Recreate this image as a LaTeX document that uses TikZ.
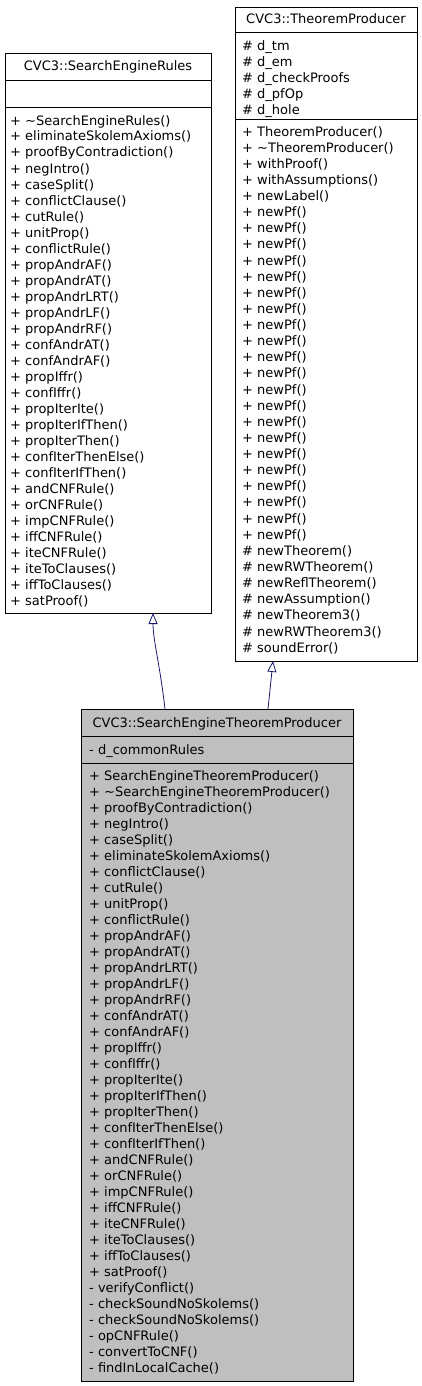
\documentclass[tikz,border=0pt]{standalone}
\usepackage{fontspec}
\setmainfont{DejaVu Sans}
\usetikzlibrary{arrows.meta}
\definecolor{edgec}{HTML}{191970}
\definecolor{fillg}{HTML}{BFBFBF}
\begin{document}
\begin{tikzpicture}[x=1pt,y=-1pt,
  font=\fontsize{13}{16}\selectfont,
  umlbox/.style={draw=black, line width=0.9pt, inner sep=0pt, outer sep=0pt, anchor=north west},
  txt/.style={anchor=base west, inner sep=0pt},
  ttl/.style={anchor=base, inner sep=0pt},
  inh/.style={draw=edgec, line width=0.8pt, -{Triangle[open,length=11pt,width=9pt,fill=white]}}]
\useasboundingbox (0,0) rectangle (421,1386);

% ---------- SearchEngineRules ----------
\node[umlbox, minimum width=206pt, minimum height=560pt] (ser) at (5,53) {};
\draw[line width=0.9pt] (5,80) -- (211,80);
\draw[line width=0.9pt] (5,107) -- (211,107);
\node[ttl] (sert) at (108,71) {CVC3::SearchEngineRules};
\foreach \t [count=\i from 0] in {%
 + \textasciitilde SearchEngineRules(), + eliminateSkolemAxioms(), + proofByContradiction(),
 + negIntro(), + caseSplit(), + conflictClause(), + cutRule(), + unitProp(), + conflictRule(),
 + propAndrAF(), + propAndrAT(), + propAndrLRT(), + propAndrLF(), + propAndrRF(),
 + confAndrAT(), + confAndrAF(), + propIffr(), + confIffr(), + propIterIte(),
 + propIterIfThen(), + propIterThen(), + confIterThenElse(), + confIterIfThen(),
 + andCNFRule(), + orCNFRule(), + impCNFRule(), + iffCNFRule(), + iteCNFRule(),
 + iteToClauses(), + iffToClauses(), + satProof()}
  \node[txt] (serm\i) at (10,{125+16*\i}) {\t};

% ---------- TheoremProducer ----------
\node[umlbox, minimum width=182pt, minimum height=654pt] (tp) at (235,7) {};
\draw[line width=0.9pt] (235,32) -- (417,32);
\draw[line width=0.9pt] (235,119) -- (417,119);
\node[ttl] (tpt) at (326,24) {CVC3::TheoremProducer};
\foreach \t [count=\i from 0] in {\# d\_tm, \# d\_em, \# d\_checkProofs, \# d\_pfOp, \# d\_hole}
  \node[txt] (tpa\i) at (242,{51+16*\i}) {\t};
\foreach \t [count=\i from 0] in {%
 + TheoremProducer(), + \textasciitilde TheoremProducer(), + withProof(), + withAssumptions(),
 + newLabel(), + newPf(), + newPf(), + newPf(), + newPf(), + newPf(), + newPf(), + newPf(),
 + newPf(), + newPf(), + newPf(), + newPf(), + newPf(), + newPf(), + newPf(), + newPf(),
 + newPf(), + newPf(), + newPf(), + newPf(), + newPf(), + newPf(),
 \# newTheorem(), \# newRWTheorem(), \# newReflTheorem(), \# newAssumption(),
 \# newTheorem3(), \# newRWTheorem3(), \# soundError()}
  \node[txt] (tpm\i) at (242,{136+16.13*\i}) {\t};

% ---------- SearchEngineTheoremProducer ----------
\node[umlbox, fill=fillg, minimum width=272pt, minimum height=672pt] (setp) at (81,709) {};
\draw[line width=0.9pt] (81,736) -- (353,736);
\draw[line width=0.9pt] (81,763) -- (353,763);
\node[ttl] (setpt) at (217,727) {CVC3::SearchEngineTheoremProducer};
\node[txt] (setpa) at (89,754) {- d\_commonRules};
\foreach \t [count=\i from 0] in {%
 + SearchEngineTheoremProducer(), + \textasciitilde SearchEngineTheoremProducer(),
 + proofByContradiction(), + negIntro(), + caseSplit(), + eliminateSkolemAxioms(),
 + conflictClause(), + cutRule(), + unitProp(), + conflictRule(),
 + propAndrAF(), + propAndrAT(), + propAndrLRT(), + propAndrLF(), + propAndrRF(),
 + confAndrAT(), + confAndrAF(), + propIffr(), + confIffr(), + propIterIte(),
 + propIterIfThen(), + propIterThen(), + confIterThenElse(), + confIterIfThen(),
 + andCNFRule(), + orCNFRule(), + impCNFRule(), + iffCNFRule(), + iteCNFRule(),
 + iteToClauses(), + iffToClauses(), + satProof(),
 - verifyConflict(), - checkSoundNoSkolems(), - checkSoundNoSkolems(),
 - opCNFRule(), - convertToCNF(), - findInLocalCache()}
  \node[txt] (setpm\i) at (89,{780+16*\i}) {\t};

% ---------- inheritance ----------
\path (setp.north west) ++(84,0) coordinate (a1s);
\path (ser.south west) ++(148,0) coordinate (a1e);
\path (setp.north west) ++(187,0) coordinate (a2s);
\path (tp.south west) ++(38,0) coordinate (a2e);
\draw[inh] (a1s) .. controls (160,665) and (153,640) .. (a1e);
\draw[inh] (a2s) -- (a2e);
\end{tikzpicture}
\end{document}
